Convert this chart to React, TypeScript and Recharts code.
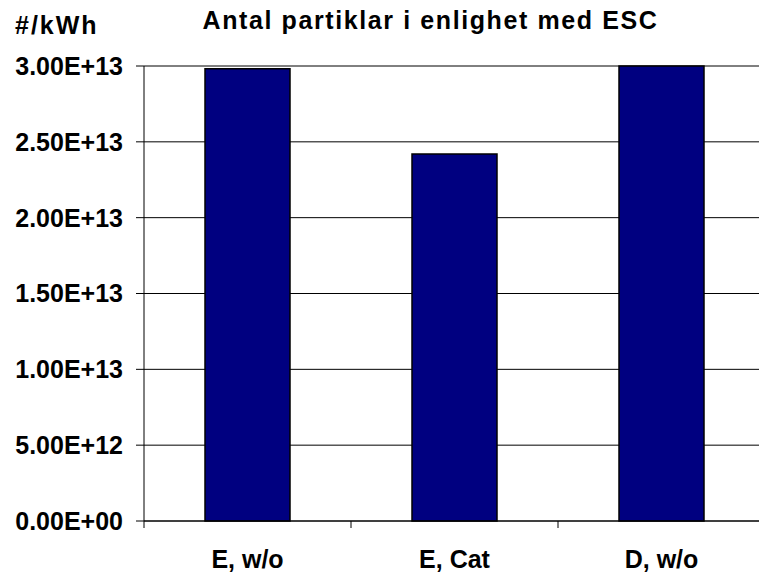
import { Bar, BarChart, CartesianGrid, XAxis, YAxis } from "recharts";

const categories = ["E, w/o", "E, Cat", "D, w/o"];
const particles = [2.982e13, 2.419e13, 3.0e13];
const yTicks = [0, 5e12, 1e13, 1.5e13, 2e13, 2.5e13, 3e13];

const dataset = categories.map((name, i) => ({ name, value: particles[i] }));

const FONT = '"Liberation Sans", Arial, sans-serif';
const CHART_W = 780;
const CHART_H = 572;
const Y_W = 144;
const MARGIN_R = 15;
const HALF_BAND = (CHART_W - Y_W - MARGIN_R) / categories.length / 2;

const fmtExp = (v: number) => {
  const [m, e] = v.toExponential(2).split("e");
  const n = Number(e);
  const sign = n < 0 ? "-" : "+";
  return `${m}E${sign}${String(Math.abs(n)).padStart(2, "0")}`;
};

const XTick = (props: any) => {
  const { x, y, payload, index } = props;
  return (
    <g>
      <line x1={x - HALF_BAND} x2={x - HALF_BAND} y1={y} y2={y + 7} stroke="#000" />
      {index === categories.length - 1 && (
        <line x1={x + HALF_BAND} x2={x + HALF_BAND} y1={y} y2={y + 7} stroke="#000" />
      )}
      <text
        x={x}
        y={y + 47}
        textAnchor="middle"
        fill="#000"
        fontFamily={FONT}
        fontWeight="bold"
        fontSize={25}
      >
        {payload.value}
      </text>
    </g>
  );
};

const App = () => {
  return (
    <div
      style={{
        position: "absolute",
        left: 0,
        top: 0,
        width: 759,
        height: 572,
        overflow: "hidden",
        background: "#fff",
      }}
    >
      <div
        style={{
          position: "absolute",
          left: 0,
          width: 861,
          top: 8,
          textAlign: "center",
          fontFamily: FONT,
          fontWeight: "bold",
          fontSize: 25,
          lineHeight: "24px",
          letterSpacing: 1.6,
          whiteSpace: "nowrap",
        }}
      >
        Antal partiklar i enlighet med ESC
      </div>
      <div
        style={{
          position: "absolute",
          left: 15,
          top: 13,
          fontFamily: FONT,
          fontWeight: "bold",
          fontSize: 25,
          lineHeight: "24px",
          letterSpacing: 2,
          whiteSpace: "nowrap",
        }}
      >
        #/kWh
      </div>
      <BarChart
        width={CHART_W}
        height={CHART_H}
        data={dataset}
        margin={{ top: 66, right: MARGIN_R, bottom: 0, left: 0 }}
      >
        <CartesianGrid vertical={false} stroke="#000" />
        <XAxis
          dataKey="name"
          height={51}
          axisLine={{ stroke: "#000" }}
          tickLine={false}
          tickSize={0}
          tickMargin={0}
          interval={0}
          tick={<XTick />}
        />
        <YAxis
          width={Y_W}
          domain={[0, 3e13]}
          ticks={yTicks}
          tickFormatter={fmtExp}
          axisLine={{ stroke: "#000" }}
          tickLine={{ stroke: "#000" }}
          tickSize={8}
          tickMargin={13}
          tick={{
            fill: "#000",
            fontFamily: FONT,
            fontWeight: "bold",
            fontSize: 25,
          }}
        />
        <Bar
          dataKey="value"
          fill="#000080"
          stroke="#000"
          strokeWidth={1.5}
          barSize={85}
          isAnimationActive={false}
        />
      </BarChart>
    </div>
  );
};

export default App;
